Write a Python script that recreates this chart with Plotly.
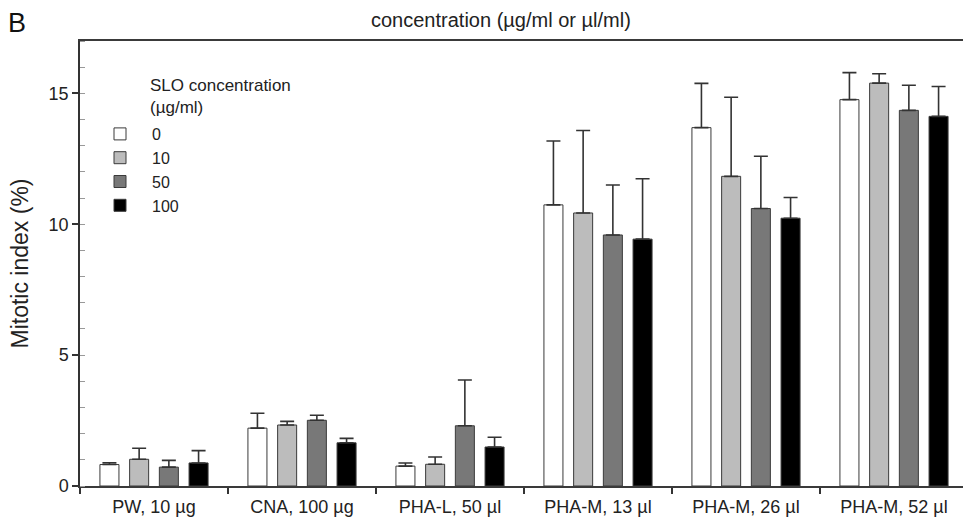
import plotly.graph_objects as go

# ---- data ----
categories = ["PW, 10 µg", "CNA, 100 µg", "PHA-L, 50 µl",
              "PHA-M, 13 µl", "PHA-M, 26 µl", "PHA-M, 52 µl"]
slo_levels = ["0", "10", "50", "100"]

mean_0 = [0.82, 2.21, 0.76, 10.74, 13.69, 14.76]
mean_10 = [1.02, 2.33, 0.83, 10.43, 11.83, 15.39]
mean_50 = [0.72, 2.51, 2.30, 9.59, 10.60, 14.35]
mean_100 = [0.88, 1.65, 1.49, 9.43, 10.23, 14.12]

top_0 = [0.89, 2.78, 0.88, 13.18, 15.38, 15.79]
top_10 = [1.44, 2.47, 1.11, 13.58, 14.85, 15.75]
top_50 = [0.98, 2.70, 4.05, 11.50, 12.60, 15.31]
top_100 = [1.35, 1.82, 1.86, 11.74, 11.02, 15.26]

means = [mean_0, mean_10, mean_50, mean_100]
tops = [top_0, top_10, top_50, top_100]
fills = ["#ffffff", "#bcbcbc", "#787878", "#000000"]

FONT = "Liberation Sans, Arial, sans-serif"

fig = go.Figure()
for name, m, t, c in zip(slo_levels, means, tops, fills):
    err = [round(b - a, 3) for a, b in zip(m, t)]
    fig.add_trace(go.Bar(
        x=categories, y=m, name=name,
        marker=dict(color=c, line=dict(color="#3a3a3a", width=1)),
        error_y=dict(type="data", symmetric=False, array=err,
                     arrayminus=[0] * len(err),
                     color="#333333", thickness=1.6, width=7),
    ))

W, H = 963, 526
L, R, T, B = 80, 0, 41, 40
pw, ph = W - L - R, H - T - B


def px_x(x):
    return (x - L) / pw


def px_y(y):
    return (H - B - y) / ph


fig.update_layout(
    width=W, height=H,
    margin=dict(l=L, r=R, t=T, b=B, pad=0),
    paper_bgcolor="white", plot_bgcolor="white",
    font=dict(family=FONT, color="#222222"),
    barmode="group", bargap=0.197, bargroupgap=0.36,
    showlegend=True,
    legend=dict(
        x=px_x(88), y=px_y(117), xanchor="left", yanchor="top",
        font=dict(size=16, family=FONT, color="#222222"),
        itemwidth=54, bgcolor="rgba(0,0,0,0)", borderwidth=0,
        traceorder="normal",
    ),
    xaxis=dict(
        range=[-0.5, -0.5 + pw / 148.0],
        showline=True, linecolor="#3a3a3a", linewidth=1.5,
        mirror=True,
        ticks="outside", tickson="boundaries", ticklen=6,
        tickcolor="#333333", tickwidth=1.5,
        ticklabelstandoff=4,
        tickfont=dict(size=18, family=FONT, color="#222222"),
        showgrid=False, zeroline=False,
    ),
    yaxis=dict(
        range=[0, 17],
        tickvals=[0, 5, 10, 15],
        showline=True, linecolor="#333333", linewidth=1.5,
        ticks="outside", ticklen=6, tickcolor="#333333", tickwidth=1.5,
        tickfont=dict(size=18, family=FONT, color="#222222"),
        minor=dict(dtick=1, ticks="inside", ticklen=5,
                   tickcolor="#999999", tickwidth=1, showgrid=False),
        showgrid=False, zeroline=False,
        title=dict(text="Mitotic index (%)",
                   font=dict(size=23, family=FONT, color="#222222"),
                   standoff=14),
    ),
    annotations=[
        dict(text="B", xref="paper", yref="paper", x=px_x(6), y=px_y(6),
             xanchor="left", yanchor="top", showarrow=False,
             font=dict(size=27, family=FONT, color="#111111")),
        dict(text="concentration (µg/ml or µl/ml)", xref="paper", yref="paper",
             x=px_x(501), y=px_y(20), xanchor="center", yanchor="middle",
             showarrow=False, font=dict(size=20, family=FONT, color="#222222")),
        dict(text="SLO concentration<br>(µg/ml)", xref="paper", yref="paper",
             x=px_x(148), y=px_y(97), xanchor="left", yanchor="middle",
             align="left", showarrow=False,
             font=dict(size=17, family=FONT, color="#222222")),
    ],
)

fig.write_html("out.html")
